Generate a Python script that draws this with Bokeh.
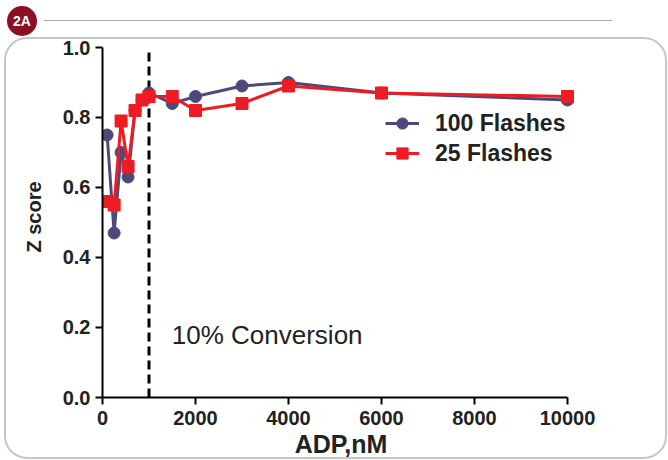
from bokeh.plotting import figure
from bokeh.layouts import column
from bokeh.models import (Range1d, FixedTicker, NumeralTickFormatter, Legend, LegendItem,
                          Label, Div)
from bokeh.embed import file_html
from bokeh.resources import INLINE

# ---- data ----
adp_nm = [100, 250, 400, 550, 700, 850, 1000, 1500, 2000, 3000, 4000, 6000, 10000]
z_100_flashes = [0.75, 0.47, 0.70, 0.63, 0.82, 0.85, 0.87, 0.84, 0.86, 0.89, 0.90, 0.87, 0.85]
z_25_flashes = [0.56, 0.55, 0.79, 0.66, 0.82, 0.85, 0.86, 0.86, 0.82, 0.84, 0.89, 0.87, 0.86]
x_ticks = [0, 2000, 4000, 6000, 8000, 10000]
y_ticks = [0.0, 0.2, 0.4, 0.6, 0.8, 1.0]
conversion_x = 1000
series_names = ["100 Flashes", "25 Flashes"]
annotation_text = "10% Conversion"
badge_text = "2A"

FONT = "Liberation Sans"
NAVY = "#4b4a7b"
RED = "#ed1c24"

# header: badge + thin rule
header = Div(
    text=(
        '<div style="position:relative;width:668px;height:36px;">'
        '<div style="position:absolute;left:7px;top:6px;width:30px;height:30px;'
        'border-radius:50%;background:#8c0f24;color:#ffffff;'
        "font-family:'Liberation Sans';font-weight:bold;font-size:14px;"
        'display:flex;align-items:center;justify-content:center;">'
        + badge_text +
        '</div>'
        '<div style="position:absolute;left:44px;top:20px;width:568px;height:1px;'
        'background:#a8a8a8;"></div>'
        '</div>'
    ),
    width=668, height=36, margin=(0, 0, 0, 0),
)

p = figure(width=665, height=424, output_backend="svg", toolbar_location=None,
           x_range=Range1d(0, 10258), y_range=Range1d(0, 1.0314),
           min_border_left=99, min_border_right=89, min_border_top=0, min_border_bottom=63,
           margin=(0, 0, 0, 3))
p.styles = {"outline": "2px solid #c6c6c6", "outline-offset": "-3px",
            "border-radius": "24px"}
p.background_fill_alpha = 0
p.border_fill_alpha = 0
p.outline_line_color = None
p.xgrid.visible = False
p.ygrid.visible = False

for ax in (p.xaxis[0], p.yaxis[0]):
    ax.axis_line_width = 2
    ax.axis_line_color = "black"
    ax.major_tick_line_width = 2
    ax.major_tick_line_color = "black"
    ax.major_tick_out = 7
    ax.major_tick_in = 0
    ax.minor_tick_line_color = None
    ax.major_label_text_font = FONT
    ax.major_label_text_font_style = "bold"
    ax.major_label_text_font_size = "20px"
    ax.major_label_text_color = "#222222"
    ax.axis_label_text_font = FONT
    ax.axis_label_text_font_style = "bold"
    ax.axis_label_text_color = "#222222"

p.xaxis[0].axis_label_text_font_size = "25px"
p.yaxis[0].axis_label_text_font_size = "20px"
p.xaxis[0].bounds = (0, 10000)
p.yaxis[0].bounds = (0, 1.0)
p.xaxis[0].ticker = FixedTicker(ticks=x_ticks)
p.yaxis[0].ticker = FixedTicker(ticks=y_ticks)
p.xaxis[0].formatter = NumeralTickFormatter(format="0")
p.yaxis[0].formatter = NumeralTickFormatter(format="0.0")
p.xaxis[0].axis_label = "ADP,nM"
p.yaxis[0].axis_label = "Z score"
p.xaxis[0].major_label_standoff = 6
p.yaxis[0].major_label_standoff = 5
p.xaxis[0].axis_label_standoff = 2
p.yaxis[0].axis_label_standoff = 15

# dashed 10% conversion marker
p.segment(x0=[conversion_x], y0=[0], x1=[conversion_x], y1=[1.0],
          line_color="black", line_width=3, line_dash="9 5")

l1 = p.line(adp_nm, z_100_flashes, line_color=NAVY, line_width=3)
m1 = p.scatter(adp_nm, z_100_flashes, marker="circle", size=12,
               fill_color=NAVY, line_color=NAVY)
l2 = p.line(adp_nm, z_25_flashes, line_color=RED, line_width=3)
m2 = p.scatter(adp_nm, z_25_flashes, marker="square", size=12,
               fill_color=RED, line_color=RED)

legend = Legend(items=[LegendItem(label=series_names[0], renderers=[l1, m1]),
                       LegendItem(label=series_names[1], renderers=[l2, m2])],
                location=(283, 230), orientation="vertical",
                background_fill_alpha=0, border_line_color=None,
                padding=0, margin=0, spacing=2,
                glyph_width=34, glyph_height=28, label_height=28,
                label_standoff=16,
                label_text_font=FONT, label_text_font_style="bold",
                label_text_font_size="23px", label_text_color="#222222")
p.add_layout(legend)

p.add_layout(Label(x=1490, y=0.178, text=annotation_text, text_font=FONT,
                   text_font_size="26px", text_color="#222222",
                   text_baseline="alphabetic", text_align="left"))

layout = column(header, p, spacing=0)
open("out.html", "w").write(file_html(layout, INLINE))
